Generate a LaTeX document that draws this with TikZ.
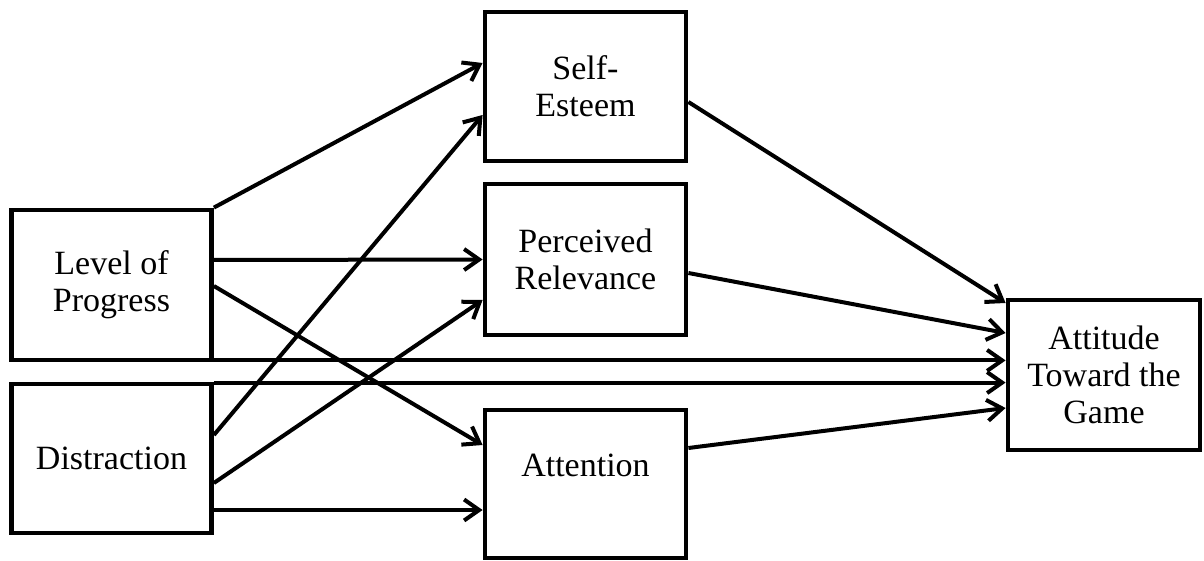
\documentclass[tikz,border=0pt]{standalone}
\usepackage{fontspec}
\setmainfont{Liberation Serif}
\usetikzlibrary{arrows.meta,calc}

\tikzset{
  box/.style={draw,line width=2.4pt,rectangle,align=center,inner sep=2pt,
    font=\fontsize{17}{18.5}\selectfont},
  arr/.style={line width=2pt,-{Straight Barb[length=7.5pt,width=10.5pt,line width=2pt]}}
}

\begin{document}
\begin{tikzpicture}[x=0.5pt,y=-0.5pt]
    \useasboundingbox (0,0) rectangle (1204,561);
    % boxes
    \node[box,minimum width=100pt,minimum height=75pt] (lop) at (111.5,285) {Level of\\Progress};
    \node[box,minimum width=100pt,minimum height=74.5pt] (dis) at (111.5,458.5) {Distraction};
    \node[box,minimum width=100.5pt,minimum height=74.5pt] (se) at (585.5,86.5) {Self-\\Esteem};
    \node[box,minimum width=100.5pt,minimum height=75.5pt] (pr) at (585.5,259.5) {Perceived\\Relevance};
    \node[box,minimum width=100.5pt,minimum height=74pt] (att) at (585.5,484) {Attention\\\mbox{}};
    \node[box,minimum width=96pt,minimum height=75pt] (atg) at (1104,375) {Attitude\\Toward the\\Game};
    % paths from level of progress
    \draw[arr] (lop.north east) -- ($(se.west)+(0,-23.5)$);
    \draw[arr] ($(lop.east)+(0,-25)$) -- (pr.west);
    \draw[arr] ($(lop.east)+(0,1)$) -- ($(att.west)+(0,-39)$);
    \coordinate (lopb) at ($(lop.south east)+(0,-2)$);
    \draw[arr] (lopb) -- (atg.west |- lopb);
    % paths from distraction
    \coordinate (dist) at ($(dis.north east)+(0,1)$);
    \draw[arr] (dist) -- (atg.west |- dist);
    \draw[arr] ($(dis.east)+(0,-23.5)$) -- ($(se.west)+(0,28.5)$);
    \draw[arr] ($(dis.east)+(0,24.5)$) -- ($(pr.west)+(0,40.5)$);
    \draw[arr] ($(dis.east)+(0,51.5)$) -- ($(att.west)+(0,26)$);
    % paths to attitude
    \draw[arr] ($(se.east)+(0,15.5)$) -- ($(atg.west)+(0,-72)$);
    \draw[arr] ($(pr.east)+(0,13.5)$) -- ($(atg.west)+(0,-42)$);
    \draw[arr] ($(att.east)+(0,-36)$) -- ($(atg.west)+(0,33)$);
\end{tikzpicture}
\end{document}
